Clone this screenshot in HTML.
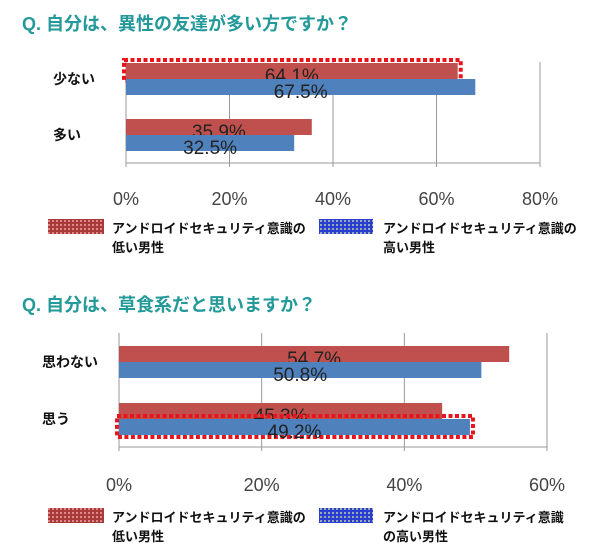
<!DOCTYPE html>
<html><head><meta charset="utf-8"><style>
body{margin:0;background:#fff;}
svg{display:block;font-family:"Liberation Sans","Noto Sans CJK JP",sans-serif;}
</style></head><body>
<svg id="c" width="600" height="557" viewBox="0 0 600 557">
<defs>
<pattern id="pr" width="4" height="4" patternUnits="userSpaceOnUse"><rect width="4" height="4" fill="#a83a3a"/><rect width="2" height="2" fill="#d88"/></pattern>
<pattern id="pb" width="4" height="4" patternUnits="userSpaceOnUse"><rect width="4" height="4" fill="#2a3fd0"/><rect width="2" height="2" fill="#9ab"/></pattern>
</defs>
</svg>
<script>
const NS='http://www.w3.org/2000/svg';
const svg=document.getElementById('c');
// Chart 1 data
const c1Title='Q. 自分は、異性の友達が多い方ですか？';
const c1Cats=['少ない','多い'];
const c1Low=[64.1,35.9];
const c1High=[67.5,32.5];
const c1Ticks=[0,20,40,60,80];
// Chart 2 data
const c2Title='Q. 自分は、草食系だと思いますか？';
const c2Cats=['思わない','思う'];
const c2Low=[54.7,45.3];
const c2High=[50.8,49.2];
const c2Ticks=[0,20,40,60];
const legendLow=['アンドロイドセキュリティ意識の','低い男性'];
const legendHigh1=['アンドロイドセキュリティ意識の','高い男性'];
const legendHigh2=['アンドロイドセキュリティ意識','の高い男性'];

function el(tag,attrs,parent){const e=document.createElementNS(NS,tag);for(const k in attrs)e.setAttribute(k,attrs[k]);(parent||svg).appendChild(e);return e;}
function txt(s,attrs){const t=el('text',attrs);t.textContent=s;return t;}

function chart(cfg){
  const g=el('g',{});
  
  
  const maxV=cfg.ticks[cfg.ticks.length-1];
  const x=v=>cfg.x0+(cfg.x1-cfg.x0)*v/maxV;
  const t=txt(cfg.title,{x:22,y:cfg.titleY,'font-size':18,'font-weight':'bold',fill:'#23999a'});
  
  
  cfg.ticks.forEach(v=>{
    const l=el('line',{x1:x(v),x2:x(v),y1:cfg.top,y2:cfg.base+4,stroke:'#999','stroke-width':1});
    
    
    const tl=txt(v+'%',{x:x(v),y:cfg.tickY,'font-size':18,fill:'#444','text-anchor':'middle'});
    
    
  });
  const ax=el('line',{x1:cfg.x0,x2:cfg.x1,y1:cfg.base,y2:cfg.base,stroke:'#999','stroke-width':1});
  
  
  cfg.cats.forEach((c,i)=>{
    const y0=cfg.rowY[i];
    const cl=txt(c,{x:cfg.catX,y:y0+cfg.bh+5,'font-size':14,'font-weight':'bold',fill:'#111'});
    
    
    [[cfg.low[i],'#c0504d',0],[cfg.high[i],'#4f81bd',1]].forEach(([v,col,k])=>{
      const by=y0+k*cfg.bh;
      const r=el('rect',{x:cfg.x0,y:by,width:x(v)-cfg.x0,height:cfg.bh,fill:col});
      
      
      if(cfg.hl[0]===i&&cfg.hl[1]===k){
        const o=el('rect',{x:cfg.x0-2,y:by-3,width:x(v)-cfg.x0+5,height:cfg.bh+5,fill:'none',stroke:'#e8141b','stroke-width':4,'stroke-dasharray':'4 2.5'});
        
        
      }
      const vl=txt(v.toFixed(1)+'%',{x:(cfg.x0+x(v))/2,y:by+cfg.bh+3,'font-size':19,fill:'#222','text-anchor':'middle'});
      
      
    });
  });
  // legend
  const s1=el('rect',{x:48,y:cfg.legY-10,width:56,height:15,fill:'url(#pr)'});
  
  
  const s2=el('rect',{x:319,y:cfg.legY-10,width:54,height:15,fill:'url(#pb)'});
  
  
  cfg.legLow.forEach((s,j)=>{const e=txt(s,{x:112,y:cfg.legY+4+j*19,'font-size':13,'font-weight':'bold',fill:'#111'});
    
    });
  cfg.legHigh.forEach((s,j)=>{const e=txt(s,{x:383,y:cfg.legY+4+j*19,'font-size':13,'font-weight':'bold',fill:'#111'});
    
    });
}
chart({name:'chart-opposite-sex-friends',title:c1Title,titleY:30,cats:c1Cats,low:c1Low,high:c1High,ticks:c1Ticks,
  x0:126,x1:540,top:62,base:163,rowY:[63,119],bh:16,catX:53,tickY:205,legY:229,hl:[0,0],legLow:legendLow,legHigh:legendHigh1});
chart({name:'chart-herbivore',title:c2Title,titleY:311,cats:c2Cats,low:c2Low,high:c2High,ticks:c2Ticks,
  x0:119,x1:547,top:333,base:447,rowY:[346,403],bh:16,catX:42,tickY:491,legY:518,hl:[1,1],legLow:legendLow,legHigh:legendHigh2});
</script>
</body></html>
